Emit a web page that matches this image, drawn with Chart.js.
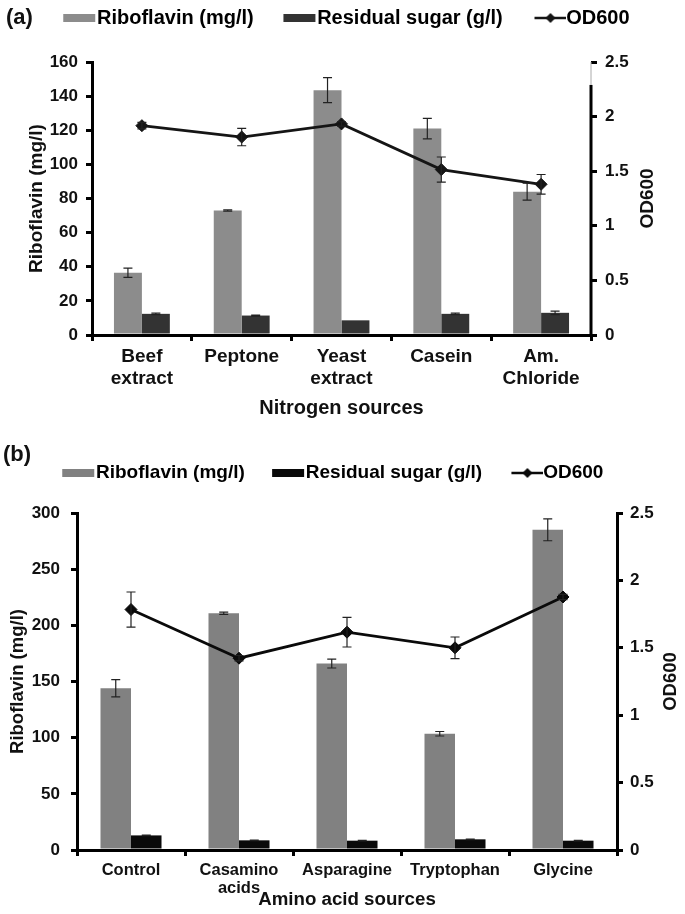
<!DOCTYPE html>
<html>
<head>
<meta charset="utf-8">
<script src="https://cdn.jsdelivr.net/npm/chart.js@4.4.1/dist/chart.umd.min.js"></script>
<style>
  body { margin: 0; background: #fff; }
  .panel { position: absolute; left: 0; width: 685px; }
  #panelA { top: 0; height: 425px; }
  #panelB { top: 440px; height: 474px; }
</style>
</head>
<body>
<div class="panel" id="panelA"><canvas id="chartA"></canvas></div>
<div class="panel" id="panelB"><canvas id="chartB"></canvas></div>
<script>
// (a) nitrogen sources
const nitrogenSources = [["Beef", "extract"], "Peptone", ["Yeast", "extract"], "Casein", ["Am.", "Chloride"]];
const ribofA = [36.5, 73, 143.5, 121, 84];
const ribofErrA = [2.7, 0.4, 7.3, 6, 5];
const sugarA = [12.4, 11.4, 8.6, 12.4, 13];
const sugarErrA = [0.4, 0.3, 0, 0.4, 1];
const odA = [1.917, 1.813, 1.933, 1.515, 1.38];
const odErrA = [0.03, 0.08, 0.02, 0.115, 0.09];
const leftTicksA = [0, 20, 40, 60, 80, 100, 120, 140, 160];

// (b) amino acid sources
const aminoSources = ["Control", ["Casamino", "acids"], "Asparagine", "Tryptophan", "Glycine"];
const ribofB = [144, 210.8, 166, 103.5, 285];
const ribofErrB = [7.7, 1, 4, 2, 9.7];
const sugarB = [13, 8.6, 8.3, 9.5, 8.3];
const sugarErrB = [0.3, 0.3, 0.3, 0.3, 0.3];
const odB = [1.784, 1.423, 1.616, 1.5, 1.877];
const odErrB = [0.13, 0.02, 0.11, 0.08, 0.02];
const leftTicksB = [0, 50, 100, 150, 200, 250, 300];

const odTicks = [0, 0.5, 1, 1.5, 2, 2.5];

const FONT = "'Liberation Sans', Arial, sans-serif";
const INK = "#111";

function bold(size, lh) {
  return { family: FONT, size: size, weight: "bold", lineHeight: lh || 1.2 };
}

// legend swatch drawn into a small canvas, right edge touches the text
function swatch(kind, color, bw, fs) {
  const c = document.createElement("canvas");
  const w = Math.round(bw + fs), h = 16;
  c.width = w;
  c.height = h;
  const g = c.getContext("2d");
  if (kind === "bar") {
    g.fillStyle = color;
    g.fillRect(w - 34, h / 2 - 4, 32, 8);
  } else {
    g.strokeStyle = color;
    g.lineWidth = 2.5;
    g.beginPath();
    g.moveTo(w - 32, h / 2);
    g.lineTo(w, h / 2);
    g.stroke();
    g.fillStyle = color;
    g.beginPath();
    g.moveTo(w - 16, h / 2 - 5);
    g.lineTo(w - 11, h / 2);
    g.lineTo(w - 16, h / 2 + 5);
    g.lineTo(w - 21, h / 2);
    g.closePath();
    g.fill();
  }
  return c;
}

const errorBars = {
  id: "errorBars",
  afterDatasetsDraw(chart) {
    const ctx = chart.ctx;
    chart.data.datasets.forEach((ds, di) => {
      if (!ds.errors) return;
      const meta = chart.getDatasetMeta(di);
      const scale = chart.scales[meta.yAxisID];
      ctx.save();
      ctx.strokeStyle = "#222";
      ctx.lineWidth = 1.2;
      meta.data.forEach((el, i) => {
        const e = ds.errors[i];
        if (!e) return;
        const x = el.x;
        const top = scale.getPixelForValue(ds.data[i] + e);
        const bot = scale.getPixelForValue(ds.data[i] - e);
        ctx.beginPath();
        ctx.moveTo(x, top);
        ctx.lineTo(x, bot);
        ctx.moveTo(x - 4.5, top);
        ctx.lineTo(x + 4.5, top);
        ctx.moveTo(x - 4.5, bot);
        ctx.lineTo(x + 4.5, bot);
        ctx.stroke();
      });
      ctx.restore();
    });
  }
};

// extra room under the legend, and a sideways shift of its row
const legendTweak = {
  id: "legendTweak",
  beforeLayout(chart, args, opts) {
    const lg = chart.legend;
    if (lg && !lg._tweaked) {
      const fit = lg.fit;
      lg.fit = function () {
        fit.call(this);
        this.height += opts.gap || 0;
      };
      lg._tweaked = true;
    }
  },
  afterLayout(chart, args, opts) {
    chart.legend.left += opts.dx || 0;
    chart.legend.right += opts.dx || 0;
  }
};

const panelLabel = {
  id: "panelLabel",
  afterDraw(chart, args, opts) {
    const ctx = chart.ctx;
    ctx.save();
    ctx.font = "bold 22px " + FONT;
    ctx.fillStyle = INK;
    ctx.textBaseline = "middle";
    ctx.fillText(opts.text, opts.x, opts.y);
    ctx.restore();
  }
};

// OD600 title on the right, reading bottom to top like the left one
const sideTitle = {
  id: "sideTitle",
  afterDraw(chart, args, opts) {
    const ctx = chart.ctx;
    const a = chart.chartArea;
    ctx.save();
    ctx.translate(opts.x, (a.top + a.bottom) / 2);
    ctx.rotate(-Math.PI / 2);
    ctx.font = "bold " + opts.size + "px " + FONT;
    ctx.fillStyle = INK;
    ctx.textAlign = "center";
    ctx.textBaseline = "middle";
    ctx.fillText(opts.text, 0, 0);
    ctx.restore();
  }
};

// right axis line of (a) stops short of the top, with a thin line above
const rightSpine = {
  id: "rightSpine",
  afterDatasetsDraw(chart, args, opts) {
    if (!opts.solidTo) return;
    const s = chart.scales.y1;
    const ctx = chart.ctx;
    ctx.save();
    ctx.strokeStyle = "#000";
    ctx.lineWidth = 3;
    ctx.beginPath();
    ctx.moveTo(s.left, s.getPixelForValue(0) + 1.5);
    ctx.lineTo(s.left, s.getPixelForValue(opts.solidTo));
    ctx.stroke();
    ctx.strokeStyle = "#aaa";
    ctx.lineWidth = 1;
    ctx.beginPath();
    ctx.moveTo(s.left, s.getPixelForValue(opts.solidTo));
    ctx.lineTo(s.left, s.getPixelForValue(2.5));
    ctx.stroke();
    ctx.restore();
  }
};

function makeChart(id, p) {
  const ticksFrom = (arr) => (s) => { s.ticks = arr.map((v) => ({ value: v })); };
  const axisGrid = { display: true, drawOnChartArea: false, drawTicks: true, tickLength: 6, lineWidth: 3, color: "#000" };
  return new Chart(id, {
    type: "bar",
    data: {
      labels: p.labels,
      datasets: [
        {
          type: "line", label: "OD600", data: p.od, errors: p.odErr, yAxisID: "y1", order: 0,
          borderColor: p.lineColor, borderWidth: 2.8, pointStyle: "rectRot", pointRadius: 6,
          pointBackgroundColor: p.lineColor, pointBorderColor: p.lineColor, pointBorderWidth: 1,
          fill: false, tension: 0
        },
        {
          type: "bar", label: "Riboflavin (mg/l)", data: p.ribof, errors: p.ribofErr, yAxisID: "y", order: 1,
          backgroundColor: p.ribofColor, barPercentage: 1, categoryPercentage: p.catPct
        },
        {
          type: "bar", label: "Residual sugar (g/l)", data: p.sugar, errors: p.sugarErr, yAxisID: "y", order: 1,
          backgroundColor: p.sugarColor, barPercentage: 1, categoryPercentage: p.catPct
        }
      ]
    },
    options: {
      responsive: true,
      maintainAspectRatio: false,
      animation: false,
      events: [],
      layout: { padding: { top: p.padTop, left: 0, right: 0, bottom: 0 } },
      plugins: {
        tooltip: { enabled: false },
        legend: {
          position: "top",
          align: "start",
          labels: {
            usePointStyle: true,
            pointStyleWidth: p.bw,
            padding: 0,
            color: INK,
            font: bold(p.legendSize),
            generateLabels: () => [
              { text: "Riboflavin (mg/l)", pointStyle: swatch("bar", p.ribofColor, p.bw, p.legendSize), fillStyle: p.ribofColor, strokeStyle: p.ribofColor, lineWidth: 0, hidden: false, datasetIndex: 1 },
              { text: "Residual sugar (g/l)", pointStyle: swatch("bar", p.sugarColor, p.bw, p.legendSize), fillStyle: p.sugarColor, strokeStyle: p.sugarColor, lineWidth: 0, hidden: false, datasetIndex: 2 },
              { text: "OD600", pointStyle: swatch("line", p.lineColor, p.bw, p.legendSize), fillStyle: p.lineColor, strokeStyle: p.lineColor, lineWidth: 0, hidden: false, datasetIndex: 0 }
            ]
          }
        },
        legendTweak: { dx: p.legendDx, gap: p.legendGap },
        panelLabel: { text: p.panel, x: p.panelX, y: p.panelY },
        sideTitle: { text: "OD600", x: p.y1TitleX, size: p.yTitleSize },
        rightSpine: { solidTo: p.spineTo }
      },
      scales: {
        x: {
          offset: true,
          grid: Object.assign({ offset: true }, axisGrid),
          border: { display: true, width: 3, color: "#000" },
          ticks: { color: INK, font: bold(p.xTickSize, p.xTickLh), padding: 5, maxRotation: 0, autoSkip: false },
          title: { display: true, text: p.xTitle, color: INK, font: bold(p.xTitleSize), padding: { top: 0, bottom: p.xTitlePad } },
          afterFit: (s) => { s.height = p.xHeight; }
        },
        y: {
          position: "left",
          min: 0,
          max: p.leftTicks[p.leftTicks.length - 1],
          afterBuildTicks: ticksFrom(p.leftTicks),
          grid: axisGrid,
          border: { display: true, width: 3, color: "#000" },
          ticks: { color: INK, font: bold(17), padding: p.leftTickPad, callback: (v) => String(v) },
          title: { display: true, text: "Riboflavin (mg/l)", color: INK, font: bold(p.yTitleSize), padding: { top: p.yTitlePad, bottom: 0 } },
          afterFit: (s) => { s.width = p.leftWidth; }
        },
        y1: {
          position: "right",
          min: 0,
          max: 2.5,
          afterBuildTicks: ticksFrom(odTicks),
          grid: axisGrid,
          border: { display: !p.spineTo, width: 3, color: "#000" },
          ticks: { color: INK, font: bold(17), padding: p.rightTickPad, callback: (v) => String(v) },
          title: { display: false },
          afterFit: (s) => { s.width = p.rightWidth; }
        }
      }
    },
    plugins: [errorBars, legendTweak, panelLabel, sideTitle, rightSpine]
  });
}

makeChart("chartA", {
  labels: nitrogenSources, ribof: ribofA, ribofErr: ribofErrA, sugar: sugarA, sugarErr: sugarErrA,
  od: odA, odErr: odErrA, leftTicks: leftTicksA,
  ribofColor: "#8c8c8c", sugarColor: "#333333", lineColor: "#151515", catPct: 0.56,
  padTop: 8, bw: 53.5, legendSize: 20, legendDx: 33.5, legendGap: 24,
  panel: "(a)", panelX: 6, panelY: 18, spineTo: 2.29,
  xTickSize: 19, xTickLh: 1.15, xTitle: "Nitrogen sources", xTitleSize: 20, xTitlePad: 5, xHeight: 90,
  yTitleSize: 19, yTitlePad: 25.6, y1TitleX: 648, leftTickPad: 8, rightTickPad: 8,
  leftWidth: 92, rightWidth: 94
});

makeChart("chartB", {
  labels: aminoSources, ribof: ribofB, ribofErr: ribofErrB, sugar: sugarB, sugarErr: sugarErrB,
  od: odB, odErr: odErrB, leftTicks: leftTicksB,
  ribofColor: "#818181", sugarColor: "#0a0a0a", lineColor: "#0a0a0a", catPct: 0.565,
  padTop: 23.5, bw: 51.5, legendSize: 19, legendDx: 35, legendGap: 20.5,
  panel: "(b)", panelX: 3, panelY: 15, spineTo: 0,
  xTickSize: 16.5, xTickLh: 1.1, xTitle: "Amino acid sources", xTitleSize: 18.7, xTitlePad: 2.8, xHeight: 64,
  yTitleSize: 18.5, yTitlePad: 7, y1TitleX: 671, leftTickPad: 11, rightTickPad: 7,
  leftWidth: 77, rightWidth: 68
});
</script>
</body>
</html>
